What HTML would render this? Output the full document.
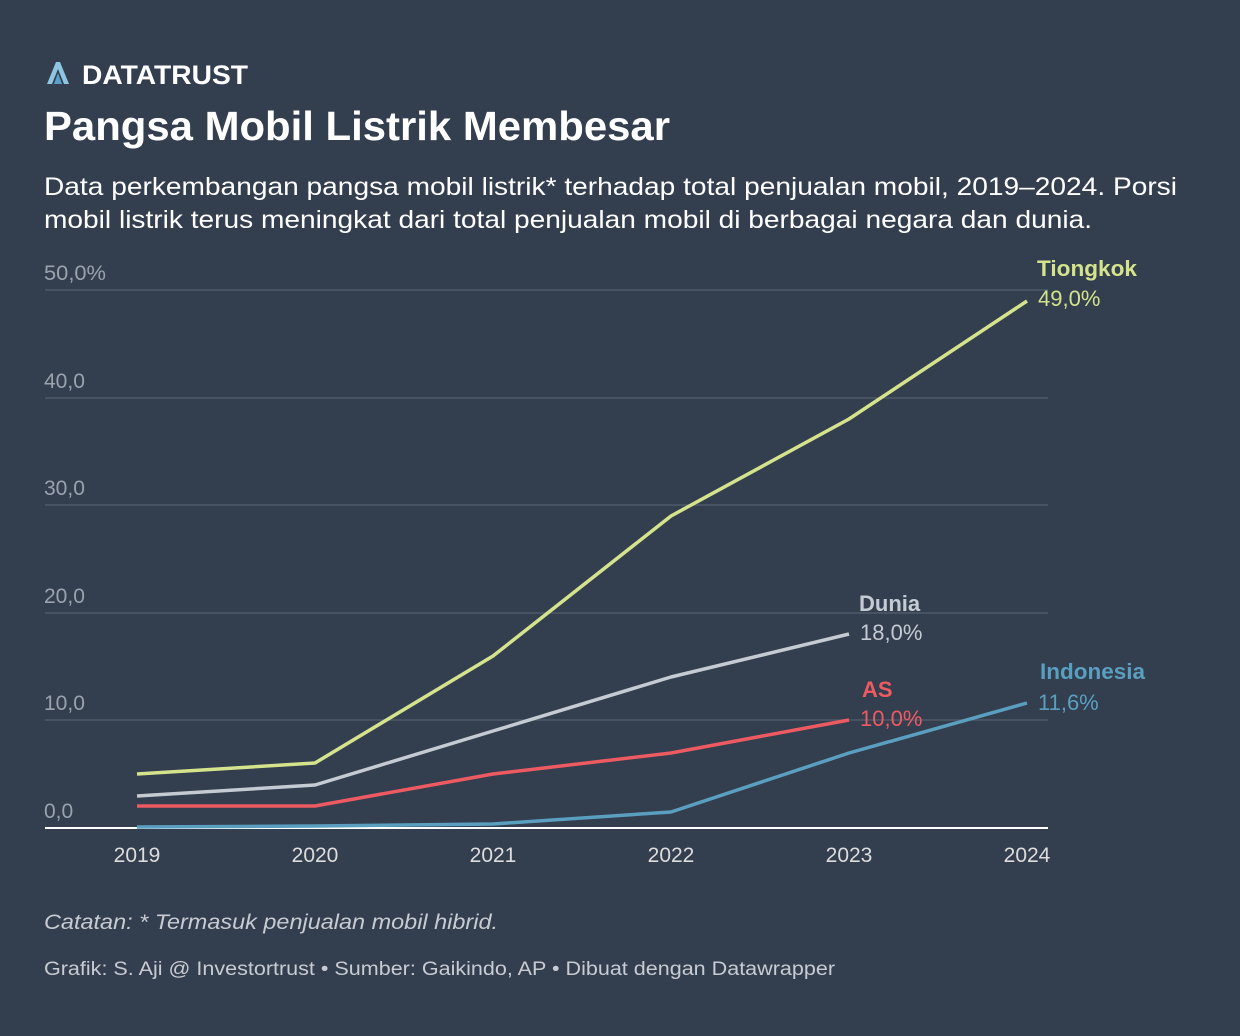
<!DOCTYPE html>
<html><head><meta charset="utf-8"><style>
html,body{margin:0;padding:0;background:#333e4f;}
svg{display:block;font-family:"Liberation Sans",sans-serif;}
</style></head><body>
<svg width="1240" height="1036" viewBox="0 0 1240 1036">
<rect width="1240" height="1036" fill="#333e4f"/>
<g>
<polygon points="47,84 56,62 60,62 69,84 64,84 58,69 52,84" fill="#8cc6e0"/>
<polygon points="54,84 58,73 62,84" fill="#5aa0c8"/>
</g>
<text x="82" y="84" fill="#fff" font-size="27" font-weight="bold" textLength="166" lengthAdjust="spacingAndGlyphs">DATATRUST</text>
<text x="44" y="140" fill="#fff" font-size="41" font-weight="bold" textLength="626" lengthAdjust="spacingAndGlyphs">Pangsa Mobil Listrik Membesar</text>
<text x="44" y="195" fill="#fff" font-size="25" textLength="1133" lengthAdjust="spacingAndGlyphs">Data perkembangan pangsa mobil listrik* terhadap total penjualan mobil, 2019–2024. Porsi</text>
<text x="44" y="228" fill="#fff" font-size="25" textLength="1048" lengthAdjust="spacingAndGlyphs">mobil listrik terus meningkat dari total penjualan mobil di berbagai negara dan dunia.</text>
<g stroke="#4e5868" stroke-width="1.5">
<line x1="45" y1="290" x2="1048" y2="290"/>
<line x1="45" y1="398" x2="1048" y2="398"/>
<line x1="45" y1="505" x2="1048" y2="505"/>
<line x1="45" y1="613" x2="1048" y2="613"/>
<line x1="45" y1="720" x2="1048" y2="720"/>
</g>
<line x1="45" y1="828" x2="1048" y2="828" stroke="#fff" stroke-width="2"/>
<g fill="#9aa3ad" font-size="21">
<text x="44" y="280" textLength="62" lengthAdjust="spacingAndGlyphs">50,0%</text>
<text x="44" y="388">40,0</text>
<text x="44" y="495">30,0</text>
<text x="44" y="603">20,0</text>
<text x="44" y="710">10,0</text>
<text x="44" y="818">0,0</text>
</g>
<g fill="#ddd" font-size="21" text-anchor="middle">
<text x="137" y="862">2019</text><text x="315" y="862">2020</text><text x="493" y="862">2021</text>
<text x="671" y="862">2022</text><text x="849" y="862">2023</text><text x="1027" y="862">2024</text>
</g>
<g fill="none" stroke-width="3.5" stroke-linejoin="round">
<polyline stroke="#5a9fc0" points="137,827 315,826 493,824 671,812 849,753 1027,703"/>
<polyline stroke="#ee5a62" points="137,806 315,806 493,774 671,753 849,720"/>
<polyline stroke="#c4cbd2" points="137,796 315,785 493,731 671,677 849,634"/>
<polyline stroke="#d4e38c" points="137,774 315,763 493,656 671,516 849,419 1027,301"/>
</g>
<text x="1037" y="276" fill="#d4e38c" font-size="22" font-weight="bold" textLength="100" lengthAdjust="spacingAndGlyphs">Tiongkok</text>
<text x="1038" y="306" fill="#d4e38c" font-size="22">49,0%</text>
<text x="859" y="611" fill="#c4cbd2" font-size="22" font-weight="bold">Dunia</text>
<text x="860" y="640" fill="#c4cbd2" font-size="22">18,0%</text>
<text x="862" y="697" fill="#ee5a62" font-size="22" font-weight="bold">AS</text>
<text x="860" y="726" fill="#ee5a62" font-size="22">10,0%</text>
<text x="1040" y="679" fill="#5a9fc0" font-size="22" font-weight="bold" textLength="105" lengthAdjust="spacingAndGlyphs">Indonesia</text>
<text x="1038" y="710" fill="#5a9fc0" font-size="22">11,6%</text>
<text x="44" y="929" fill="#c8ccd2" font-size="21" font-style="italic" textLength="454" lengthAdjust="spacingAndGlyphs">Catatan: * Termasuk penjualan mobil hibrid.</text>
<text x="44" y="975" fill="#c8ccd2" font-size="19" textLength="791" lengthAdjust="spacingAndGlyphs">Grafik: S. Aji @ Investortrust • Sumber: Gaikindo, AP • Dibuat dengan Datawrapper</text>
</svg>
</body></html>
